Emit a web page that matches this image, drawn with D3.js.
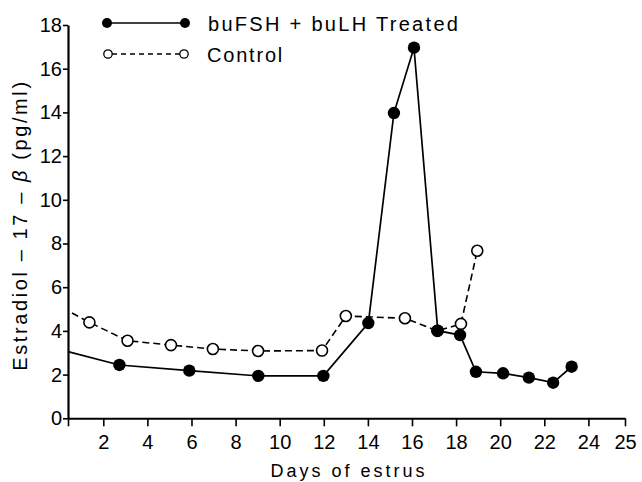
<!DOCTYPE html>
<html>
<head>
<meta charset="utf-8">
<script src="https://cdn.jsdelivr.net/npm/d3@7"></script>
<style>
  html, body { margin: 0; padding: 0; background: #fff; }
  svg { display: block; font-family: "Liberation Sans", Arial, sans-serif; }
</style>
</head>
<body>
<svg id="chart" width="642" height="482"></svg>
<script>
// ---- data ----
// first entry of each series is where the line leaves the y axis (no marker)
const treatedDays   = [0.4, 2.73, 5.9, 9.03, 11.98, 14.02, 15.18, 16.09, 17.17, 18.18, 18.9, 20.13, 21.3, 22.4, 23.24];
const treatedValues = [3.05, 2.44, 2.18, 1.94, 1.94, 4.36, 13.97, 16.96, 4.01, 3.81, 2.13, 2.06, 1.86, 1.63, 2.36];
const controlDays   = [0.58, 1.37, 3.1, 5.07, 6.97, 9.02, 11.92, 13.0, 15.68, 17.15, 18.22, 18.96];
const controlValues = [4.82, 4.39, 3.55, 3.35, 3.17, 3.08, 3.1, 4.68, 4.58, 4.0, 4.32, 7.67];
const xTickValues = [0.4, 2, 4, 6, 8, 10, 12, 14, 16, 18, 20, 22, 24, 25];
const yTickValues = [0, 2, 4, 6, 8, 10, 12, 14, 16, 18];
const seriesNames = ["buFSH + buLH Treated", "Control"];
const xTitle = "Days of estrus";

const svg = d3.select("#chart");

// x axis as hand-drawn in the original: 24 -> 25 is a shorter step
const x = d3.scaleLinear().domain([0.4, 24, 25]).range([68, 588.4, 625]);
const y = d3.scaleLinear().domain([0, 18]).range([418.3, 25]);

const fontSize = 20;

// axes
const xAxis = d3.axisBottom(x)
  .tickValues(xTickValues)
  .tickFormat(d => d < 1 ? "" : d3.format("d")(d))
  .tickSizeInner(8).tickSizeOuter(0).tickPadding(9);
const gx = svg.append("g").attr("transform", `translate(0,${y(0)})`).call(xAxis);
gx.select(".domain").attr("stroke", "#000").attr("stroke-width", 2);
gx.selectAll(".tick line").attr("stroke", "#000").attr("stroke-width", 1.6);
gx.selectAll(".tick text").attr("fill", "#000").attr("font-size", fontSize)
  .attr("font-family", "Liberation Sans, Arial, sans-serif");

const yAxis = d3.axisLeft(y)
  .tickValues(yTickValues)
  .tickFormat(d3.format("d"))
  .tickSizeInner(5).tickSizeOuter(0).tickPadding(1);
const gy = svg.append("g").attr("transform", `translate(${x(0.4)},0)`).call(yAxis);
gy.select(".domain").attr("stroke", "#000").attr("stroke-width", 2.2);
gy.selectAll(".tick line").attr("stroke", "#000").attr("stroke-width", 1.6);
gy.selectAll(".tick text").attr("fill", "#000").attr("font-size", fontSize)
  .attr("font-family", "Liberation Sans, Arial, sans-serif");

// axis titles
svg.append("text")
  .attr("x", 349).attr("y", 477)
  .attr("text-anchor", "middle")
  .attr("font-size", 18).attr("letter-spacing", 3)
  .text(xTitle);

const yt = svg.append("text")
  .attr("transform", "translate(27,225) rotate(-90)")
  .attr("text-anchor", "middle")
  .attr("font-size", 20).attr("letter-spacing", 2.6);
yt.append("tspan").text("Estradiol – 17 – ");
yt.append("tspan").attr("font-style", "italic").text("β");
yt.append("tspan").text(" (pg/ml)");

// lines
const line = d3.line().x(d => x(d[0])).y(d => y(d[1]));
const treated = treatedDays.map((d, i) => [d, treatedValues[i]]);
const control = controlDays.map((d, i) => [d, controlValues[i]]);

svg.append("path").datum(control)
  .attr("d", line).attr("fill", "none").attr("stroke", "#000")
  .attr("stroke-width", 1.6).attr("stroke-dasharray", "7,4");
svg.append("path").datum(treated)
  .attr("d", line).attr("fill", "none").attr("stroke", "#000")
  .attr("stroke-width", 1.7);

// markers (first entry is the line start on the axis, no marker)
svg.append("g").selectAll("circle").data(control.slice(1)).join("circle")
  .attr("cx", d => x(d[0])).attr("cy", d => y(d[1])).attr("r", 5.5)
  .attr("fill", "#fff").attr("stroke", "#000").attr("stroke-width", 1.6);
svg.append("g").selectAll("circle").data(treated.slice(1)).join("circle")
  .attr("cx", d => x(d[0])).attr("cy", d => y(d[1])).attr("r", 6.2)
  .attr("fill", "#000");

// legend
const lg = svg.append("g");
lg.append("line").attr("x1", 107).attr("x2", 185).attr("y1", 23).attr("y2", 23)
  .attr("stroke", "#000").attr("stroke-width", 1.7);
lg.selectAll("circle.f").data([107, 185]).join("circle").attr("class", "f")
  .attr("cx", d => d).attr("cy", 23).attr("r", 5).attr("fill", "#000");
lg.append("text").attr("x", 208).attr("y", 30.5)
  .attr("font-size", 20).attr("letter-spacing", 2.3).text(seriesNames[0]);

lg.append("line").attr("x1", 112).attr("x2", 180).attr("y1", 54).attr("y2", 54)
  .attr("stroke", "#000").attr("stroke-width", 1.4).attr("stroke-dasharray", "5,4");
lg.selectAll("circle.o").data([108, 184]).join("circle").attr("class", "o")
  .attr("cx", d => d).attr("cy", 54).attr("r", 4.2)
  .attr("fill", "#fff").attr("stroke", "#000").attr("stroke-width", 1.3);
lg.append("text").attr("x", 207).attr("y", 61.5)
  .attr("font-size", 20).attr("letter-spacing", 1.8).text(seriesNames[1]);
</script>
</body>
</html>
